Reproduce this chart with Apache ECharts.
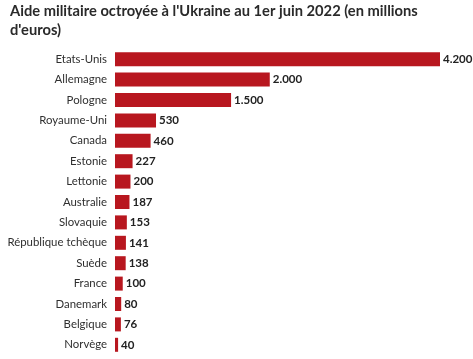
<!DOCTYPE html>
<html><head><meta charset="utf-8">
<script src="https://cdn.jsdelivr.net/npm/echarts@6/dist/echarts.min.js"></script>
<style>html,body{margin:0;padding:0;background:#fff}#c{width:473px;height:359px}</style>
</head><body><div id="c"></div>
<script>
const categories = ["Etats-Unis","Allemagne","Pologne","Royaume-Uni","Canada","Estonie","Lettonie","Australie","Slovaquie","République tchèque","Suède","France","Danemark","Belgique","Norvège"];
const values = [4200,2000,1500,530,460,227,200,187,153,141,138,100,80,76,40];
const titleText = "Aide militaire octroyée à l'Ukraine au 1er juin 2022 (en millions\nd'euros)";

function fmt(v){ return String(v).replace(/\B(?=(\d{3})+(?!\d))/g, '.'); }

const chart = echarts.init(document.getElementById('c'), null, {renderer:'canvas'});
chart.setOption({
  animation:false,
  title:{text:titleText, left:5, top:-3, textStyle:{fontFamily:'Lato', fontSize:14.7, fontWeight:'bold', color:'#2a2a2a', lineHeight:19}},
  grid:{left:115, top:49, width:325, height:306, containLabel:false, outerBoundsMode:'none'},
  xAxis:{type:'value', min:0, max:4200, show:false},
  yAxis:{type:'category', data:categories, inverse:true,
    axisLine:{show:false}, axisTick:{show:false},
    axisLabel:{fontFamily:'Lato', fontSize:11.4, color:'#2f2f2f', margin:8}},
  series:[{type:'bar', data:values, barWidth:14, itemStyle:{color:'#b8171f'},
    label:{show:true, position:'right', distance:3, formatter:p=>fmt(p.value), fontFamily:'Lato', fontSize:11.5, fontWeight:'bold', color:'#222'}}]
});
</script></body></html>
